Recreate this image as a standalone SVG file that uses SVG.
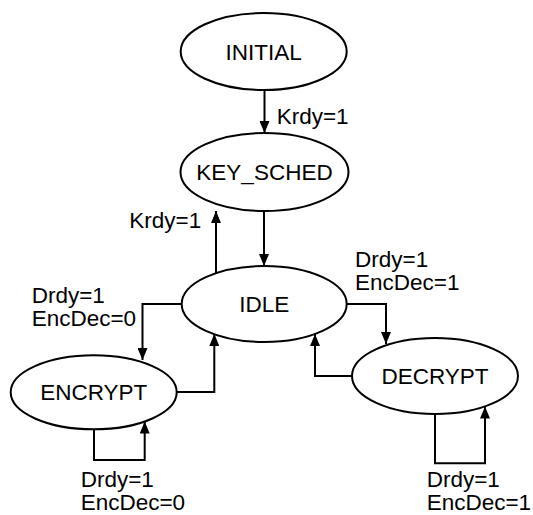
<svg xmlns="http://www.w3.org/2000/svg" width="533" height="515" viewBox="0 0 533 515">
<style>
.n ellipse{fill:#fff;stroke:#000;stroke-width:2}
text{font-family:"Liberation Sans",Arial,sans-serif;font-size:22.5px;fill:#000}
.c{text-anchor:middle}
#edges path{fill:none;stroke:#000;stroke-width:2}
</style>
<defs>
<marker id="ah" viewBox="0 0 12 10" refX="12" refY="5" markerWidth="12" markerHeight="10" markerUnits="userSpaceOnUse" orient="auto">
<path d="M0,0 L12,5 L0,10 z" fill="#000"/>
</marker>
</defs>
<rect width="533" height="515" fill="#fff"/>
<g id="edges">
<path d="M264.5,90 V133" marker-end="url(#ah)"/>
<path d="M216,273 V211" marker-end="url(#ah)"/>
<path d="M264,211 V266" marker-end="url(#ah)"/>
<path d="M181.7,304 H142.5 V360" marker-end="url(#ah)"/>
<path d="M176.7,392 H214.3 V334" marker-end="url(#ah)"/>
<path d="M94,429 V460 H144.7 V421.5" marker-end="url(#ah)"/>
<path d="M346.7,304 H386 V344" marker-end="url(#ah)"/>
<path d="M352,376 H315 V334" marker-end="url(#ah)"/>
<path d="M435,414 V463.3 H485 V406.5" marker-end="url(#ah)"/>
</g>
<g id="labels">
<text x="276.7" y="124">Krdy=1</text>
<text x="129.3" y="228">Krdy=1</text>
<text x="31.7" y="303">Drdy=1</text>
<text x="31.7" y="326">EncDec=0</text>
<text x="355" y="267">Drdy=1</text>
<text x="355" y="290">EncDec=1</text>
<text x="80.7" y="487">Drdy=1</text>
<text x="80.7" y="510">EncDec=0</text>
<text x="426.7" y="487">Drdy=1</text>
<text x="426.7" y="510">EncDec=1</text>
</g>
<g id="initial" class="n"><ellipse cx="263.7" cy="51.5" rx="83" ry="38.5"/><text class="c" x="263.7" y="59.5">INITIAL</text></g>
<g id="key_sched" class="n"><ellipse cx="264.5" cy="172" rx="84" ry="39"/><text class="c" x="264.5" y="180">KEY_SCHED</text></g>
<g id="idle" class="n"><ellipse cx="264.2" cy="304" rx="82.5" ry="38"/><text class="c" x="264.2" y="312">IDLE</text></g>
<g id="encrypt" class="n"><ellipse cx="93.7" cy="392.3" rx="83" ry="37"/><text class="c" x="93.7" y="400.3">ENCRYPT</text></g>
<g id="decrypt" class="n"><ellipse cx="435" cy="376" rx="83" ry="38"/><text class="c" x="435" y="384">DECRYPT</text></g>
</svg>
